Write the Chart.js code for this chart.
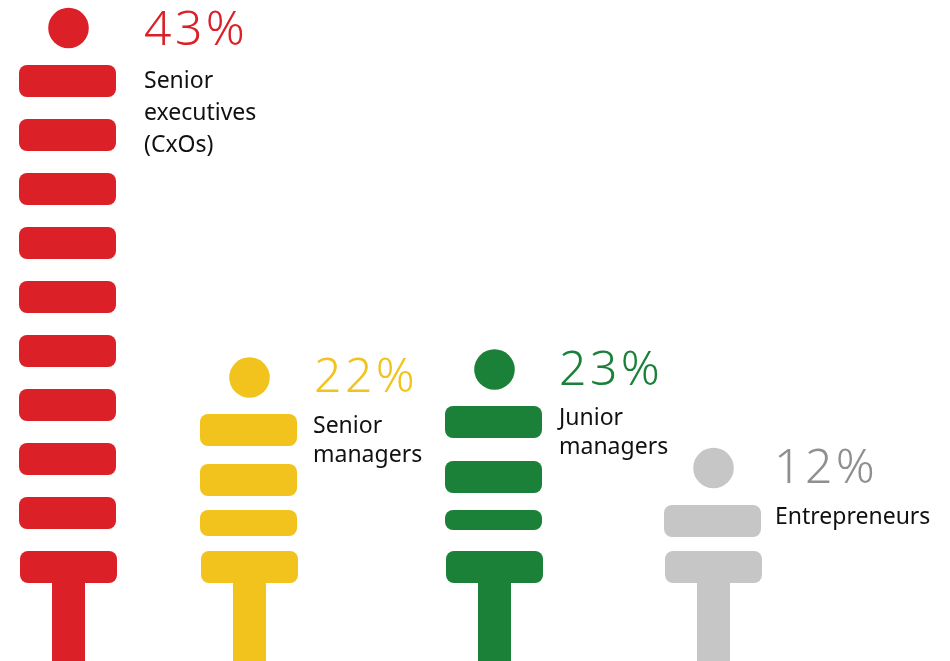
<!DOCTYPE html>
<html>
<head>
<meta charset="utf-8">
<style>
html,body{margin:0;padding:0;background:#fff;overflow:hidden}
#wrap{position:absolute;left:0;top:0;width:950px;height:661px}
</style>
<script src="https://cdn.jsdelivr.net/npm/chart.js@4"></script>
</head>
<body>
<div id="wrap"><canvas id="c" width="950" height="661"></canvas></div>
<script>
// Chart values
const categories = [["Senior","executives","(CxOs)"],["Senior","managers"],["Junior","managers"],["Entrepreneurs"]];
const shares = [43, 22, 23, 12];

// Pictogram readings, in figure units measured up from the baseline
const figureCentres = [68.5, 249.5, 494.5, 713.5];
const bandCentres = [67.5, 248.5, 493.5, 712.5];
const headHeights = [633, 283.5, 291.5, 193];
const execBands = [[564,596],[510,542],[456,488],[402,434],[348,380],[294,326],[240,272],[186,218],[132,164]];
const seniorBands = [[215,247],[165,197],[125,151]];
const juniorBands = [[223,255],[168,200],[131,151]];
const entrepreneurBands = [[124,156]];
const shoulderBand = [78, 110];
const legBand = [0, 78];

const bandsByFigure = [execBands, seniorBands, juniorBands, entrepreneurBands];
const colours = ["#DC2028", "#F2C31C", "#1B8139", "#C6C6C6"];
const shareColours = ["#DC2028", "#F2C31C", "#1B8139", "#8F8F8F"];

// Text placement relative to the scales
const shareAnchors = [[144,44.5],[314,392],[559,384.5],[774,482.5]];
const labelAnchors = [[144,88],[313,433],[559,425],[775,524]];
const labelLineGaps = [32, 29, 29, 29];

const datasets = [];
categories.forEach((cat, i) => {
  const name = cat.join(" ");
  const bar = {type:"bar", grouped:false, backgroundColor:colours[i], borderWidth:0, borderSkipped:false, inflateAmount:0};
  datasets.push({...bar, label:name+" bands", barThickness:97, borderRadius:8,
    data: bandsByFigure[i].map(b => ({x:bandCentres[i], y:b}))});
  datasets.push({...bar, label:name+" shoulders", barThickness:97, borderRadius:8,
    data:[{x:figureCentres[i], y:shoulderBand}]});
  datasets.push({...bar, label:name+" leg", barThickness:33, borderRadius:0,
    data:[{x:figureCentres[i], y:legBand}]});
  datasets.push({type:"scatter", label:name+" head", backgroundColor:colours[i], borderWidth:0,
    pointRadius:20.3, pointHoverRadius:20.3, data:[{x:figureCentres[i], y:headHeights[i]}]});
});

const textPlugin = {
  id:"figureText",
  afterDatasetsDraw(chart){
    const {ctx, scales:{x, y}} = chart;
    ctx.save();
    ctx.textAlign = "left";
    ctx.textBaseline = "alphabetic";
    categories.forEach((lines, i) => {
      ctx.font = '300 48px "Noto Sans", sans-serif';
      ctx.letterSpacing = "3.5px";
      ctx.fillStyle = shareColours[i];
      ctx.fillText(shares[i] + "%", x.getPixelForValue(shareAnchors[i][0]), y.getPixelForValue(661 - shareAnchors[i][1]));
      ctx.font = '400 23px "Noto Sans", sans-serif';
      ctx.letterSpacing = "0px";
      ctx.fillStyle = "#111111";
      lines.forEach((line, k) => {
        ctx.fillText(line, x.getPixelForValue(labelAnchors[i][0]), y.getPixelForValue(661 - labelAnchors[i][1] - k*labelLineGaps[i]));
      });
    });
    ctx.restore();
  }
};

new Chart(document.getElementById("c"), {
  data:{datasets},
  plugins:[textPlugin],
  options:{
    responsive:false,
    animation:false,
    devicePixelRatio:1,
    layout:{padding:0, autoPadding:false},
    plugins:{legend:{display:false}, title:{display:false}, tooltip:{enabled:false}},
    events:[],
    scales:{
      x:{type:"linear", min:0, max:950, offset:false, display:false},
      y:{type:"linear", min:0, max:661, display:false}
    }
  }
});
</script>
</body>
</html>
